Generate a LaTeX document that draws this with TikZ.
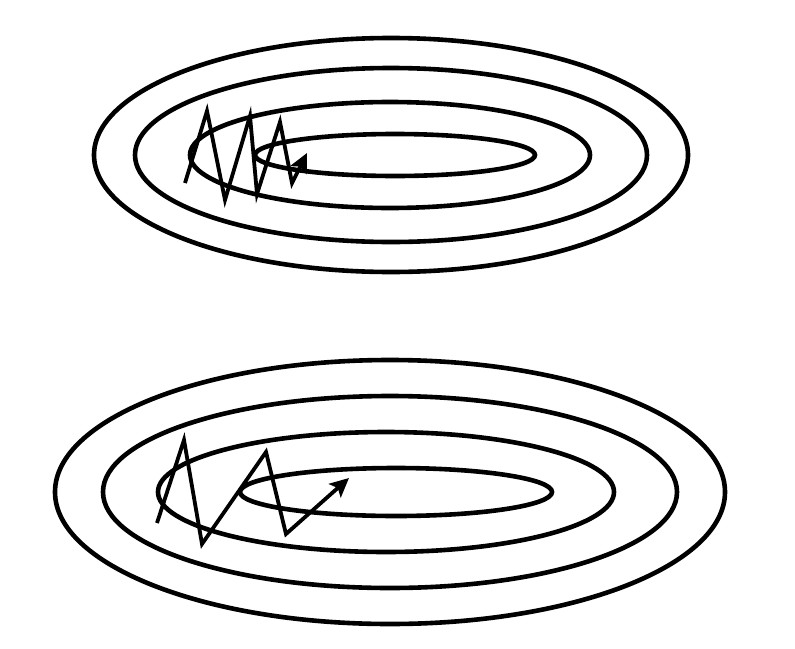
\documentclass[tikz,border=0pt]{standalone}
\usetikzlibrary{arrows.meta}
\begin{document}
\begin{tikzpicture}[x=1pt,y=-1pt,
  % level curves of the cost surface
  contour/.style={draw, line width=4.6pt},
  % descent path, ends in a filled head
  walk/.style={draw, line width=3.8pt, -{Stealth[length=19pt,width=18pt,inset=4pt]}},
  ]
  \useasboundingbox (0,0) rectangle (795,648);
  % ---- upper plot: small steps, many swings ----------------------------------
  \foreach \cx/\rx/\ry in {391/297/117, 391/256/87, 390/200/53, 395/140/21}
    \draw[contour] (\cx,155) ellipse [x radius=\rx pt, y radius=\ry pt];
  \draw[walk] (185,183) -- (207,111) -- (225,200) -- (250,116) -- (257,194)
    -- (280,122) -- (292,183) -- (307,153);
  % ---- lower plot: larger steps ----------------------------------------------
  \foreach \cx/\rx/\ry in {390/335/132, 390/287/96, 386/228/60, 396/156/24}
    \draw[contour] (\cx,492) ellipse [x radius=\rx pt, y radius=\ry pt];
  \draw[walk] (157,523) -- (184,440) -- (202,544) -- (266,452) -- (286,534)
    -- (349,478);
\end{tikzpicture}
\end{document}
